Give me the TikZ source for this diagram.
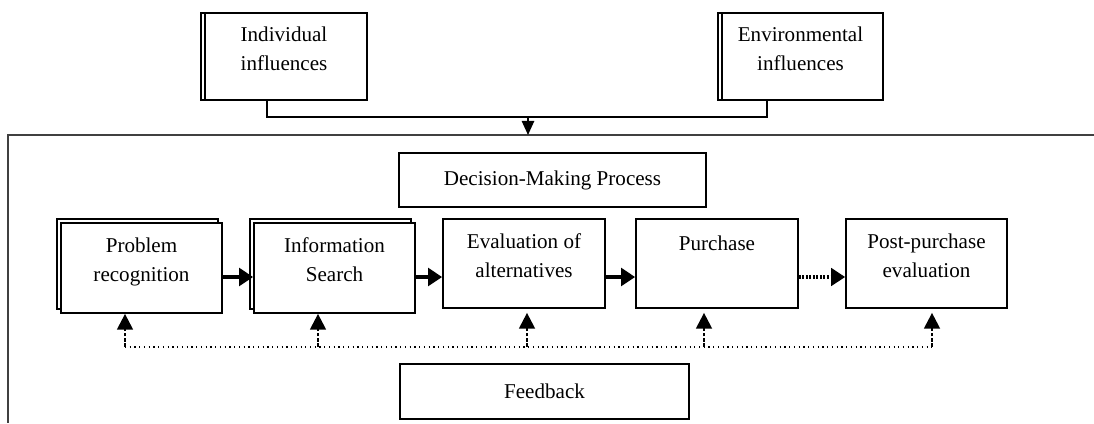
\documentclass[tikz,border=0pt]{standalone}
\usepackage{fontspec}
\setmainfont{Liberation Serif}
\usetikzlibrary{positioning,arrows.meta}

\begin{document}
\begin{tikzpicture}[x=0.02cm, y=-0.02cm,
    font=\fontsize{12}{16.5}\selectfont,
    box/.style={draw, line width=1pt, fill=white, inner sep=0pt},
    txt/.style={align=center, inner sep=0pt},
    frame/.style={draw=black!75, line width=1.1pt},
    flow/.style={line width=2.3pt, -{Triangle[length=8pt, width=10pt]}},
    back/.style={line width=1.3pt, dash pattern=on 2pt off 1pt, -{Triangle[length=9pt, width=9pt]}}]

    \useasboundingbox (0,0) rectangle (1094,423);

    % influences
    \node[box, minimum width=3.32cm, minimum height=1.74cm] (indiv) at (284,56.5) {};
    \draw[line width=1pt] ([xshift=0.1cm]indiv.north west) -- ([xshift=0.1cm]indiv.south west);
    \node[txt, below=0.28cm of indiv.north] (indiv-t) {Individual\\influences};
    \node[box, minimum width=3.3cm, minimum height=1.74cm] (env) at (800.5,56.5) {};
    \draw[line width=1pt] ([xshift=0.1cm]env.north west) -- ([xshift=0.1cm]env.south west);
    \node[txt, below=0.28cm of env.north] (env-t) {Environmental\\influences};

    \coordinate (join) at (528,117);
    \coordinate (frame-nw) at (8,135);
    \coordinate (frame-ne) at (1094,135);
    \coordinate (frame-sw) at (8,423);
    \draw[frame] (frame-ne) -- (frame-nw) -- (frame-sw);
    \draw[line width=1pt] ([xshift=-0.34cm]indiv.south) |- (join) -| ([xshift=-0.67cm]env.south);
    \draw[line width=1pt, -{Triangle[length=8pt, width=7pt]}] (join) -- (join |- frame-nw);

    \node[box, minimum width=6.14cm, minimum height=1.08cm] (dmp) at (552.5,180) {Decision-Making Process};

    % stages
    \node[box, minimum width=3.22cm, minimum height=1.8cm] (prob-b) at (137.5,264) {};
    \node[box, minimum width=3.22cm, minimum height=1.8cm] (prob) at (141.5,268) {};
    \node[txt, below=0.3cm of prob.north] (prob-t) {Problem\\recognition};
    \node[box, minimum width=3.22cm, minimum height=1.8cm] (info-b) at (330.5,264) {};
    \node[box, minimum width=3.22cm, minimum height=1.8cm] (info) at (334.5,268) {};
    \node[txt, below=0.3cm of info.north] (info-t) {Information\\Search};
    \node[box, minimum width=3.24cm, minimum height=1.78cm] (eval) at (524,263.5) {};
    \node[txt, below=0.3cm of eval.north] (eval-t) {Evaluation of\\alternatives};
    \node[box, minimum width=3.24cm, minimum height=1.78cm] (purch) at (717,263.5) {};
    \node[txt, below=0.34cm of purch.north] (purch-t) {Purchase};
    \node[box, minimum width=3.22cm, minimum height=1.78cm] (post) at (926.5,263.5) {};
    \node[txt, below=0.3cm of post.north] (post-t) {Post-purchase\\evaluation};

    \coordinate (row) at (0,277);
    \draw[flow] (prob.east |- row) -- (info.west |- row);
    \draw[flow] (info.east |- row) -- (eval.west |- row);
    \draw[flow] (eval.east |- row) -- (purch.west |- row);
    \draw[flow, line width=1.8pt, dash pattern=on 1pt off 1pt] (purch.east |- row) -- (post.west |- row);

    % feedback
    \foreach \x/\n in {125/1, 318/2, 527/3, 704/4, 932/5}
        \coordinate (fb\n) at (\x,347);
    \draw[line width=0.7pt, dotted] (fb1) -- (fb5);
    \draw[back] (fb1) -- (fb1 |- prob.south);
    \draw[back] (fb2) -- (fb2 |- info.south);
    \draw[back, shorten >=0.08cm] (fb3) -- (fb3 |- eval.south);
    \draw[back, shorten >=0.08cm] (fb4) -- (fb4 |- purch.south);
    \draw[back, shorten >=0.08cm] (fb5) -- (fb5 |- post.south);

    \node[box, minimum width=5.78cm, minimum height=1.1cm] (fb) at (544.5,391.5) {Feedback};
\end{tikzpicture}
\end{document}
